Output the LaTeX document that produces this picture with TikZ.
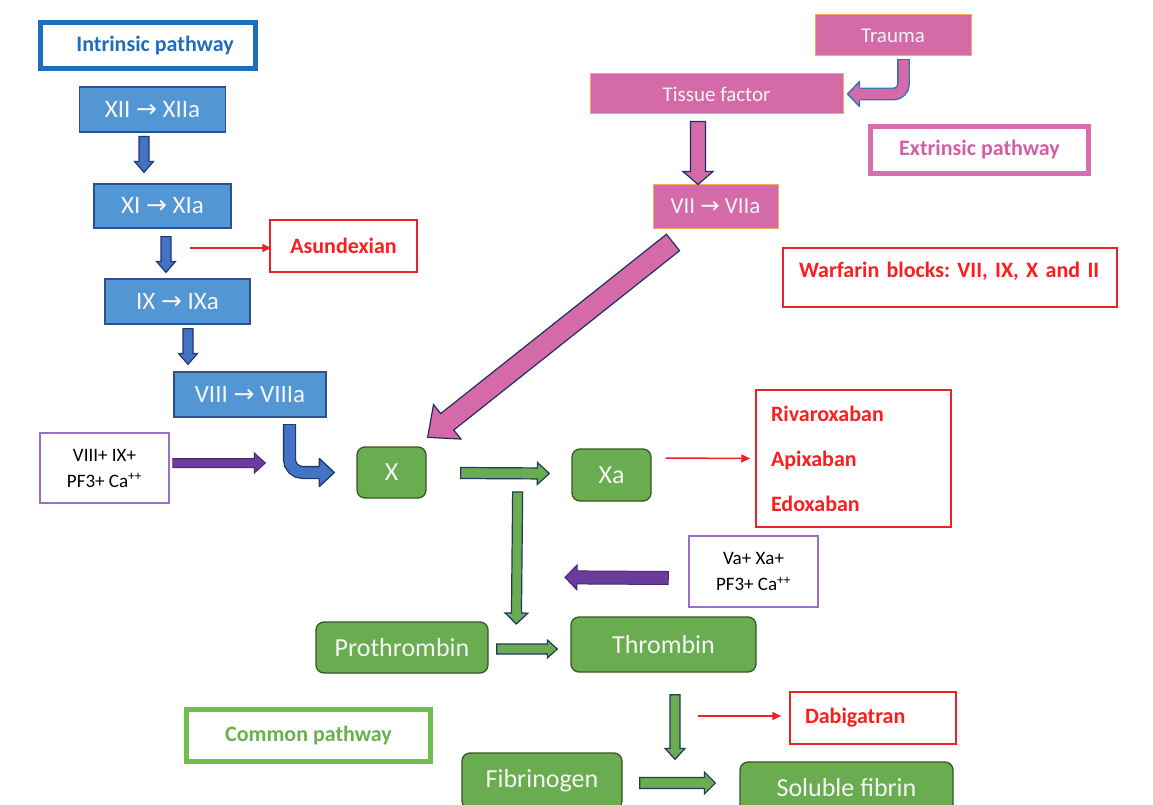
\documentclass[tikz,border=0pt]{standalone}
\usepackage{fontspec}
\setmainfont{Carlito}
\newfontfamily\arrowfont{DejaVu Sans}
\newcommand\ra{{\arrowfont\char"2192}}
\usetikzlibrary{calc,arrows.meta}
\definecolor{bluefill}{RGB}{83,150,212}
\definecolor{blueedge}{RGB}{47,79,143}
\definecolor{bluearrow}{RGB}{68,114,196}
\definecolor{bluearrowedge}{RGB}{32,56,110}
\definecolor{pinkfill}{RGB}{212,106,168}
\definecolor{pinkedge}{RGB}{245,170,90}
\definecolor{navyedge}{RGB}{35,45,100}
\definecolor{traumaedge}{RGB}{46,117,182}
\definecolor{greenfill}{RGB}{106,173,80}
\definecolor{greenedge}{RGB}{56,87,35}
\definecolor{greenarrowedge}{RGB}{31,56,100}
\definecolor{purplearrow}{RGB}{107,60,155}
\definecolor{purplearrowedge}{RGB}{75,40,120}
\definecolor{purplebox}{RGB}{155,110,200}
\definecolor{redline}{RGB}{235,35,40}
\definecolor{redtext}{RGB}{250,30,30}
\definecolor{intrcol}{RGB}{30,110,190}
\definecolor{extredge}{RGB}{215,110,175}
\definecolor{extrtext}{RGB}{210,95,165}
\definecolor{commedge}{RGB}{112,190,80}
\definecolor{commtext}{RGB}{106,176,76}
\definecolor{boxtext}{RGB}{245,245,245}
\newcommand\blockarrow[6]{% #1 style, #2 from, #3 tip, #4 shaft half, #5 head half, #6 head length
  \coordinate (baq) at ($(#3)!#6!(#2)$);
  \draw[#1] ($(#2)!#4!90:(#3)$) -- ($(baq)!#4!90:(#3)$) -- ($(baq)!#5!90:(#3)$) -- (#3)
    -- ($(baq)!#5!-90:(#3)$) -- ($(baq)!#4!-90:(#3)$) -- ($(#2)!#4!-90:(#3)$) -- cycle;}
\tikzset{
  bluebox/.style={fill=bluefill, draw=blueedge, line width=1.2pt, text=boxtext, inner sep=0pt,
    font=\fontsize{25}{30}\selectfont},
  pinkbox/.style={fill=pinkfill, draw=pinkedge, line width=1pt, text=boxtext, inner sep=0pt,
    font=\fontsize{21}{25}\selectfont},
  greenbox/.style={fill=greenfill, draw=greenedge, line width=1.3pt, rounded corners=8pt,
    text=boxtext, inner sep=0pt, font=\fontsize{26}{30}\selectfont},
  titlebox/.style={draw, line width=5pt, fill=white, inner sep=0pt, font=\fontsize{22}{26}\selectfont\bfseries},
  redbox/.style={draw=redline, line width=1.5pt, fill=white, text=redtext, inner sep=0pt,
    font=\fontsize{22}{26}\selectfont\bfseries},
  cofbox/.style={draw=purplebox, line width=1.5pt, fill=white, text=black, inner sep=0pt,
    align=center, font=\fontsize{19}{26}\selectfont},
  bluearr/.style={fill=bluearrow, draw=bluearrowedge, line width=1.2pt},
  pinkarr/.style={fill=pinkfill, draw=navyedge, line width=1.2pt},
  greenarr/.style={fill=greenfill, draw=greenarrowedge, line width=1.2pt},
  purplearr/.style={fill=purplearrow, draw=purplearrowedge, line width=1pt},
  redarr/.style={draw=redline, line width=1.5pt, -{Triangle[length=9pt,width=8pt]}},
}
\begin{document}
\frenchspacing
\begin{tikzpicture}[x=1pt,y=-1pt]
\useasboundingbox (0,0) rectangle (1153,805);
\fill[white] (0,0) rectangle (1153,805);
\clip (0,0) rectangle (1153,805);
% ---------- nodes ----------
\node[titlebox, draw=intrcol, text=intrcol, minimum width=215, minimum height=46] (intr) at (148,45.5) {\hspace{14pt}Intrinsic pathway};
\node[bluebox, minimum width=146, minimum height=45] (xii) at (152.5,109.5) {XII \ra{} XIIa};
\node[bluebox, minimum width=137, minimum height=44] (xi) at (162.5,206) {XI \ra{} XIa};
\node[bluebox, minimum width=145, minimum height=45] (ix) at (177.5,301.5) {IX \ra{} IXa};
\node[bluebox, minimum width=152, minimum height=45] (viii) at (250,394.5) {VIII \ra{} VIIIa};
\node[redbox, minimum width=147, minimum height=52] (asun) at (343.5,246) {Asundexian};
\node[cofbox, minimum width=129, minimum height=70] (cof1) at (104.5,468) {VIII+ IX+\\PF3+ Ca\textsuperscript{++}};
\node[greenbox, minimum width=69, minimum height=51] (xnode) at (391.5,472.5) {X};
\node[greenbox, minimum width=79, minimum height=52] (xa) at (611.5,475) {Xa};
\node[redbox, minimum width=195, minimum height=137, text width=165, align=left, font=\fontsize{22}{45}\selectfont\bfseries] (drugs) at (853.5,458.5) {Rivaroxaban\\Apixaban\\Edoxaban};
\node[cofbox, minimum width=129, minimum height=71] (cof2) at (753.5,571.5) {Va+ Xa+\\PF3+ Ca\textsuperscript{++}};
\node[greenbox, minimum width=172, minimum height=51] (proth) at (402,647.5) {Prothrombin};
\node[greenbox, minimum width=185, minimum height=55] (throm) at (663.5,644.5) {Thrombin};
\node[redbox, minimum width=166, minimum height=52, text width=136, align=left] (dabi) at (873,718) {Dabigatran};
\node[titlebox, draw=commedge, text=commtext, minimum width=244, minimum height=52] (common) at (308.5,735.5) {Common pathway};
\node[greenbox, minimum width=160, minimum height=56] (fibr) at (542,781) {Fibrinogen};
\node[greenbox, minimum width=213, minimum height=52] (solf) at (846.5,788) {Soluble fibrin};
\node[pinkbox, minimum width=156, minimum height=41] (trauma) at (893,35.5) {Trauma};
\node[pinkbox, minimum width=253, minimum height=40] (tissue) at (716.5,94) {Tissue factor};
\node[titlebox, draw=extredge, text=extrtext, minimum width=218, minimum height=47] (extr) at (979.5,150) {Extrinsic pathway};
\node[pinkbox, minimum width=125, minimum height=43, font=\fontsize{23}{27}\selectfont] (vii) at (715.5,206.5) {VII \ra{} VIIa};
\node[redbox, minimum width=334, minimum height=59, text width=302, align=left, text height=29.5pt, text depth=29.5pt] (warf) at (950,277.5) {Warfarin blocks: VII, IX, X and II};
% ---------- intrinsic cascade ----------
\coordinate (a1s) at ($(xii.south)+(-8.5,4)$);
\coordinate (a1t) at ($(xi.north)+(-18.5,-11)$);
\blockarrow{bluearr}{a1s}{a1t}{5pt}{9.5pt}{11pt}
\coordinate (a2s) at ($(xi.south)+(3.5,8)$);
\coordinate (a2t) at ($(ix.north)+(-11.5,-6)$);
\blockarrow{bluearr}{a2s}{a2t}{5pt}{9.5pt}{11pt}
\coordinate (a3s) at ($(ix.south)+(10.5,4)$);
\coordinate (a3t) at ($(viii.north)+(-62,-7)$);
\blockarrow{bluearr}{a3s}{a3t}{5pt}{9.5pt}{11pt}
\coordinate (r1s) at ($(asun.west)+(-79,2)$);
\draw[redarr] (r1s) -- ($(asun.west)+(2,2)$);
% cofactor arrow
\coordinate (p1s) at ($(cof1.east)+(3,-5)$);
\coordinate (p1t) at ($(xnode.west)+(-91,-9.5)$);
\blockarrow{purplearr}{p1s}{p1t}{4.5pt}{10pt}{11pt}
% bent arrow VIII -> X
\coordinate (b1) at ($(viii.south)+(39.5,7)$);
\coordinate (b2) at ($(xnode.west)+(-22,0)$);
\coordinate (b3) at ($(b2)+(-15,0)$);
\coordinate (b3e) at ($(b2)+(-14,0)$);
\draw[draw=bluearrowedge, line width=1.3pt, double=bluearrow, double distance=10.5pt, rounded corners=13pt] (b1) |- (b3e);
\draw[bluearrowedge, line width=1.3pt] ($(b1)+(-6.5,0)$) -- ($(b1)+(6.5,0)$);
\fill[bluearrow] ($(b3)+(0,-14)$) -- (b2) -- ($(b3)+(0,14)$) -- cycle;
\draw[bluearrowedge, line width=1.3pt, line join=round] ($(b3)+(0,-6.5)$) -- ($(b3)+(0,-14)$) -- (b2) -- ($(b3)+(0,14)$) -- ($(b3)+(0,6.5)$);
% ---------- extrinsic ----------
\coordinate (t1) at ($(trauma.south)+(10.5,3)$);
\coordinate (t2) at ($(tissue.east)+(4,0)$);
\coordinate (t3) at ($(t2)+(12,0)$);
\coordinate (t3e) at ($(t2)+(11,0)$);
\draw[draw=traumaedge, line width=1.4pt, double=pinkfill, double distance=10pt, rounded corners=10pt] (t1) |- (t3e);
\draw[traumaedge, line width=1.4pt] ($(t1)+(-6.4,0)$) -- ($(t1)+(6.4,0)$);
\fill[pinkfill] ($(t3)+(0,-12.5)$) -- (t2) -- ($(t3)+(0,12.5)$) -- cycle;
\draw[traumaedge, line width=1.4pt, line join=round] ($(t3)+(0,-6.4)$) -- ($(t3)+(0,-12.5)$) -- (t2) -- ($(t3)+(0,12.5)$) -- ($(t3)+(0,6.4)$);
\coordinate (k1s) at ($(tissue.south)+(-18.5,7)$);
\coordinate (k1t) at ($(vii.north)+(-17.5,0)$);
\blockarrow{pinkarr}{k1s}{k1t}{7.5pt}{15pt}{13pt}
\coordinate (k2s) at ($(vii.south)+(-42.5,14)$);
\coordinate (k2t) at ($(xnode.north east)+(1,-9)$);
\blockarrow{pinkarr}{k2s}{k2t}{10.5pt}{22pt}{25pt}
% ---------- common pathway ----------
\coordinate (g1s) at ($(xnode.east)+(34,0.5)$);
\coordinate (g1t) at ($(xa.west)+(-22,-1.5)$);
\blockarrow{greenarr}{g1s}{g1t}{5.5pt}{11pt}{12pt}
\coordinate (r2s) at ($(xa.east)+(14,-17)$);
\draw[redarr] (r2s) -- ($(drugs.west)+(-5,0)$);
\coordinate (g2s) at ($(xnode.east)+(91,19.5)$);
\coordinate (g2t) at ($(throm.west)+(-54,-20.5)$);
\blockarrow{greenarr}{g2s}{g2t}{5pt}{11.5pt}{11pt}
\coordinate (p2s) at ($(cof2.west)+(-20,6.5)$);
\coordinate (p2t) at ($(throm.north)+(-98.5,-39)$);
\blockarrow{purplearr}{p2s}{p2t}{6.5pt}{12.5pt}{12pt}
\coordinate (g3s) at ($(proth.east)+(8,1.5)$);
\coordinate (g3t) at ($(throm.west)+(-13,4.5)$);
\blockarrow{greenarr}{g3s}{g3t}{5pt}{9pt}{10pt}
\coordinate (g4s) at ($(throm.south)+(11.5,22)$);
\coordinate (g4t) at ($(solf.north)+(-171.5,-2)$);
\blockarrow{greenarr}{g4s}{g4t}{5pt}{10pt}{11pt}
\coordinate (r3s) at ($(dabi.west)+(-91,-2)$);
\draw[redarr] (r3s) -- ($(dabi.west)+(-8,-2)$);
\coordinate (g5s) at ($(fibr.east)+(17,2)$);
\coordinate (g5t) at ($(solf.west)+(-24,-5)$);
\blockarrow{greenarr}{g5s}{g5t}{5.5pt}{11pt}{11pt}
\end{tikzpicture}
\end{document}
